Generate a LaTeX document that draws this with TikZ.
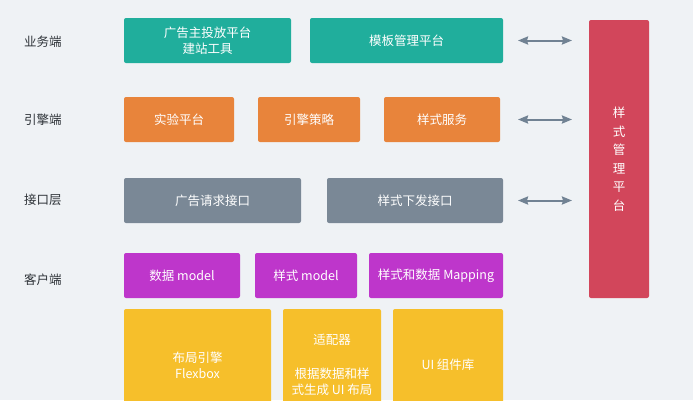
\documentclass[tikz,border=0pt]{standalone}
\usepackage{fontspec}
\setmainfont{Noto Sans CJK SC}
\usetikzlibrary{arrows.meta,positioning}
\definecolor{pagebg}{HTML}{EFF2F5}
\definecolor{labelink}{HTML}{2E3338}
\definecolor{bizteal}{HTML}{20AE9C}
\definecolor{engorange}{HTML}{E8843B}
\definecolor{apigray}{HTML}{7A8896}
\definecolor{climagenta}{HTML}{BE36CB}
\definecolor{uiyellow}{HTML}{F6BF2B}
\definecolor{platred}{HTML}{D2465B}
\definecolor{linkgray}{HTML}{718293}
\tikzset{
  x=1pt,y=-1pt,
  % schichten
  layer/.style={anchor=west,text=labelink,font=\fontsize{12.5}{15}\selectfont,inner sep=0pt},
  blk/.style={rectangle,rounded corners=2pt,inner sep=0pt,outer sep=0pt,anchor=north west,
              text=white,align=center,font=\fontsize{12.5}{16}\selectfont},
  biz/.style={blk,fill=bizteal},
  eng/.style={blk,fill=engorange},
  api/.style={blk,fill=apigray},
  cli/.style={blk,fill=climagenta},
  uib/.style={blk,fill=uiyellow},
  plat/.style={blk,fill=platred,font=\fontsize{12.5}{18.5}\selectfont},
  % pfeile
  link/.style={{Stealth[length=10pt,width=8pt,inset=1pt]}-{Stealth[length=10pt,width=8pt,inset=1pt]},
               draw=linkgray,line width=2pt},
}
\begin{document}
\begin{tikzpicture}
  \clip (0,0) rectangle (693,400);
  \fill[pagebg] (0,0) rectangle (693,400);

  \node[layer] (l1) at (24,42) {业务端};
  \node[layer] (l2) at (24,120) {引擎端};
  \node[layer] (l3) at (24,200) {接口层};
  \node[layer] (l4) at (24,280) {客户端};

  \node[biz,minimum width=167pt,minimum height=45pt] (adtool) at (124,18) {广告主投放平台\\建站工具};
  \node[biz,minimum width=193pt,minimum height=45pt] (tpl) at (310,18) {模板管理平台};

  \node[eng,minimum width=110pt,minimum height=45pt] (expt) at (124,97) {实验平台};
  \node[eng,minimum width=102pt,minimum height=45pt] (strat) at (258,97) {引擎策略};
  \node[eng,minimum width=116pt,minimum height=45pt] (stylesvc) at (384,97) {样式服务};

  \node[api,minimum width=177pt,minimum height=45pt] (adreq) at (124,178) {广告请求接口};
  \node[api,minimum width=176pt,minimum height=45pt] (stylepush) at (327,178) {样式下发接口};

  \node[cli,minimum width=116pt,minimum height=45pt] (datam) at (124,253) {数据 model};
  \node[cli,minimum width=102pt,minimum height=45pt] (stylem) at (255,253) {样式 model};
  \node[cli,minimum width=134pt,minimum height=45pt] (mapping) at (369,253) {样式和数据 Mapping};

  \node[uib,minimum width=147pt,minimum height=112pt] (flex) at (124,309) {布局引擎\\Flexbox};
  \node[uib,minimum width=98pt,minimum height=112pt] (adapter) at (283,309)
       {适配器\\[17.5pt]根据数据和样\\式生成 UI 布局};
  \node[uib,minimum width=110pt,minimum height=112pt] (uilib) at (393,309) {UI\ 组件库};

  \node[plat,minimum width=60pt,minimum height=278pt] (styleplat) at (589,20)
       {样\\式\\管\\理\\平\\台};

  \draw[link,shorten <=15pt,shorten >=17pt] (tpl.east) -- (tpl.east -| styleplat.west);
  \draw[link,shorten <=18pt,shorten >=17pt] (stylesvc.east) -- (stylesvc.east -| styleplat.west);
  \draw[link,shorten <=15pt,shorten >=17pt] (stylepush.east) -- (stylepush.east -| styleplat.west);
\end{tikzpicture}
\end{document}
